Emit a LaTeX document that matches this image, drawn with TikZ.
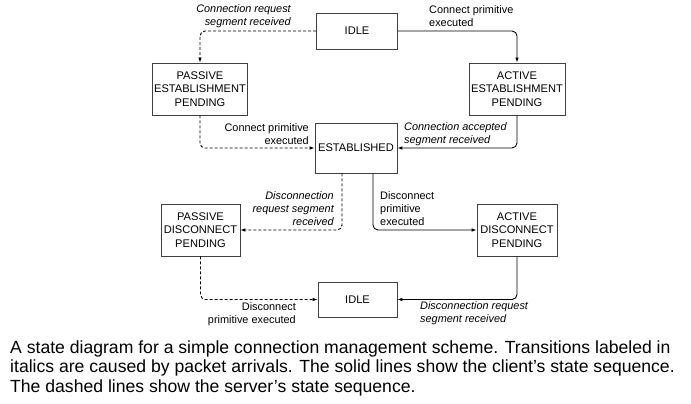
\documentclass[tikz,border=0pt]{standalone}
\usepackage{fontspec}
\setmainfont{Liberation Sans}
\usetikzlibrary{arrows.meta,positioning}

\begin{document}
\begin{tikzpicture}[x=1pt,y=-1pt,
    state/.style={draw=black!75, line width=0.7pt, align=center, inner sep=0pt,
        font=\fontsize{11.1}{13.3}\selectfont},
    lbl/.style={inner sep=0pt, font=\fontsize{10.9}{13}\selectfont},
    ilbl/.style={lbl, font=\fontsize{10.9}{13}\selectfont\itshape},
    trans/.style={line width=0.9pt, rounded corners=5pt, -{Latex[length=5pt,width=3.6pt]}},
    client/.style={trans},
    server/.style={trans, dash pattern=on 3pt off 2pt}]
    \useasboundingbox (0,0) rectangle (691,404);
    % states
    \node[state, minimum width=81pt, minimum height=36pt] (idleA) at (357,31) {IDLE};
    \node[state, minimum width=95pt, minimum height=52pt] (pestab) at (200,89) {PASSIVE\\ESTABLISHMENT\\PENDING};
    \node[state, minimum width=96pt, minimum height=52pt] (aestab) at (517,89) {ACTIVE\\ESTABLISHMENT\\PENDING};
    \node[state, minimum width=82pt, minimum height=50pt] (estab) at (356,148) {ESTABLISHED};
    \node[state, minimum width=79pt, minimum height=52pt] (pdisc) at (200.5,230) {PASSIVE\\DISCONNECT\\PENDING};
    \node[state, minimum width=80pt, minimum height=52pt] (adisc) at (517,230) {ACTIVE\\DISCONNECT\\PENDING};
    \node[state, minimum width=79pt, minimum height=35pt] (idleB) at (357.5,299.5) {IDLE};
    % transitions
    \draw[server] (idleA.west) -| (pestab.north);
    \draw[client] (idleA.east) -| (aestab.north);
    \draw[server] (pestab.south) |- (estab.west);
    \draw[client] (aestab.south) |- (estab.east);
    \draw[server] ([xshift=-14pt]estab.south) |- (pdisc.east);
    \draw[client] ([xshift=17pt]estab.south) |- (adisc.west);
    \draw[server] (pdisc.south) |- (idleB.west);
    \draw[client] (adisc.south) |- (idleB.east);
    % labels
    \node[ilbl, anchor=east, align=right] (lreqA) at (291,16.5) {Connection request\\segment received};
    \node[lbl, anchor=west, align=left] (lconA) at (429,16.5) {Connect primitive\\executed};
    \node[lbl, anchor=east, align=right] (lconB) at (309,134) {Connect primitive\\executed};
    \node[ilbl, anchor=west, align=left] (lacc) at (404,134) {Connection accepted\\segment received};
    \node[ilbl, anchor=east, align=right] (lreqB) at (334,208.5) {Disconnection\\request segment\\received};
    \node[lbl, anchor=west, align=left] (ldisA) at (380,209) {Disconnect\\primitive\\executed};
    \node[lbl, anchor=east, align=right] (ldisB) at (296,314) {Disconnect\\primitive executed};
    \node[ilbl, anchor=west, align=left] (lreqC) at (420,313.5) {Disconnection request\\segment received};
    % caption
    \node[anchor=west, align=left, inner sep=0pt, font=\fontsize{17.6}{19.5}\selectfont] (caption) at (10,368)
        {A state diagram for a simple connection management scheme. Transitions labeled in\\
         italics are caused by packet arrivals. The solid lines show the client’s state sequence.\\
         The dashed lines show the server’s state sequence.};
\end{tikzpicture}
\end{document}
